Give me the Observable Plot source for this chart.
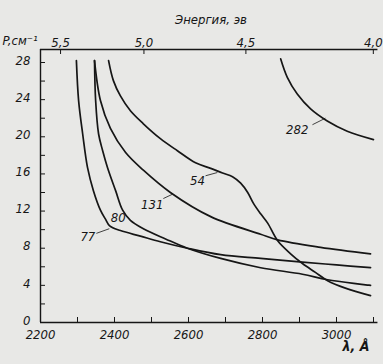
<!DOCTYPE html>
<html><head><meta charset="utf-8">
<script src="https://cdn.jsdelivr.net/npm/d3@7"></script>
<script src="https://cdn.jsdelivr.net/npm/@observablehq/plot@0.6"></script>
<style>
html,body{margin:0;padding:0;background:#e8e8e6;}
#chart svg{display:block;}
</style></head><body><div id="chart"></div>
<script>
// Curves: wavelength (Å) and absorption (cm^-1)
const lambda77 = [2297,2303,2314,2327,2343,2362,2376,2387,2416,2470,2524,2597,2687,2795,2908,3000,3092];
const rho77    = [28.2,23.9,20.3,16.7,14.2,12.1,11.1,10.4,9.9,9.3,8.7,8.0,7.3,6.9,6.5,6.2,5.9];
const lambda80 = [2346,2349,2357,2368,2381,2403,2422,2443,2478,2538,2597,2687,2795,2908,2976,3092];
const rho80    = [28.2,23.9,20.3,18.5,16.7,14.2,12.1,11.0,10.1,9.0,8.0,6.9,5.9,5.2,4.6,4.0];
const lambda131 = [2346,2362,2389,2430,2478,2551,2660,2795,2841,2957,3092];
const rho131    = [28.2,23.9,20.9,18.3,16.4,14.0,11.4,9.5,8.9,8.1,7.4];
const lambda54 = [2384,2397,2416,2443,2478,2524,2570,2619,2660,2692,2719,2741,2760,2776,2795,2814,2841,2876,2908,2943,2976,3024,3092];
const rho54    = [28.2,26.05,24.4,22.8,21.4,19.8,18.5,17.2,16.6,16.1,15.7,15.0,14.0,12.8,11.7,10.7,8.8,7.4,6.35,5.4,4.5,3.7,2.9];
const lambda282 = [2849,2867,2894,2930,2975,3029,3100];
const rho282    = [28.4,26.4,24.6,23.0,21.7,20.6,19.7];

const curveNames = ["77","80","131","54","282"];
const curveLambda = [lambda77, lambda80, lambda131, lambda54, lambda282];
const curveRho = [rho77, rho80, rho131, rho54, rho282];

// Curve labels and their leader lines
const labelText   = ["77","80","131","54","282"];
const labelLambda = [2328, 2410, 2502, 2624, 2894];
const labelRho    = [9.2, 11.3, 12.7, 15.3, 20.8];
const leaderFromLambda = [2351, 2532, 2646, 2935];
const leaderFromRho    = [9.6, 13.35, 15.8, 21.3];
const leaderToLambda   = [2386, 2556, 2678, 2970];
const leaderToRho      = [10.1, 13.8, 16.15, 22.0];

// Axes
const xDomain = [2200, 3100];
const yDomain = [0, 29.4];
const xTicks = [2200,2300,2400,2500,2600,2700,2800,2900,3000,3100];
const xTickLabels = [2200,2400,2600,2800,3000];
const yMajor = [0,4,8,12,16,20,24,28];
const yMinor = [2,6,10,14,18,22,26];
const energyTicks = [5.5,5.0,4.5,4.0];
const hcOverE = 12398; // Å·eV
const titleTop = "Энергия, эв";
const yTitle = "P,см⁻¹";
const xTitle = "λ, Å";

const rows = curveNames.flatMap((name, i) =>
  curveLambda[i].map((l, j) => ({name, lambda: l, rho: curveRho[i][j]})));
const labels = labelText.map((t, i) => ({t, lambda: labelLambda[i], rho: labelRho[i]}));
const leaders = leaderFromLambda.map((l, i) => ({x1: l, y1: leaderFromRho[i], x2: leaderToLambda[i], y2: leaderToRho[i]}));

const W = 383, H = 364, mL = 40, mR = 10, mT = 49, mB = 42;
const pw = W - mL - mR, ph = H - mT - mB;
const ink = "#161616";
const font = "'Liberation Sans Narrow','DejaVu Sans Condensed','Arial Narrow',sans-serif";

const chart = Plot.plot({
  width: W, height: H,
  marginLeft: mL, marginRight: mR, marginTop: mT, marginBottom: mB,
  style: {fontFamily: font, fontStyle: "italic", fontSize: "13px", background: "transparent", color: ink, overflow: "visible"},
  x: {domain: xDomain, label: null},
  y: {domain: yDomain, label: null},
  marks: [
    Plot.ruleX([xDomain[0]], {stroke: ink, strokeWidth: 1.4}),
    Plot.ruleY([yDomain[0]], {stroke: ink, strokeWidth: 1.4, x1: xDomain[0], x2: 3112}),
    Plot.ruleY([yDomain[1]], {stroke: ink, strokeWidth: 1.4, x1: xDomain[0], x2: 3112}),
    Plot.tickX(xTicks, {x: d => d, stroke: ink, insetTop: ph - 5}),
    Plot.tickX(energyTicks, {x: e => hcOverE / e, stroke: ink, insetBottom: ph - 5}),
    Plot.tickY(yMajor.concat(yMinor), {y: d => d, stroke: ink, insetRight: pw - 5}),
    Plot.axisY({ticks: yMajor, tickSize: 0, tickPadding: 10, dy: -2, fill: ink}),
    Plot.axisX({anchor: "bottom", ticks: xTickLabels, tickSize: 0, tickPadding: 7, tickFormat: d => String(d), fill: ink}),
    Plot.text(energyTicks, {x: e => hcOverE / e, frameAnchor: "top", dy: -12, text: e => e.toFixed(1).replace(".", ","), fill: ink}),
    Plot.text([titleTop], {frameAnchor: "top", dx: 4, dy: -35, text: d => d, fill: ink}),
    Plot.text([yTitle], {frameAnchor: "top-left", dx: -38, dy: -14, textAnchor: "start", text: d => d, fill: ink}),
    Plot.text([xTitle], {frameAnchor: "bottom-right", dx: -4, dy: 28, textAnchor: "end", text: d => d, fill: ink, fontWeight: "bold", fontSize: 14}),
    Plot.line(rows, {x: "lambda", y: "rho", z: "name", curve: "catmull-rom", stroke: ink, strokeWidth: 1.7}),
    Plot.link(leaders, {x1: "x1", y1: "y1", x2: "x2", y2: "y2", stroke: ink, strokeWidth: 0.8}),
    Plot.text(labels, {x: "lambda", y: "rho", text: "t", fill: ink, fontSize: 13})
  ]
});
document.getElementById("chart").appendChild(chart);
</script></body></html>
